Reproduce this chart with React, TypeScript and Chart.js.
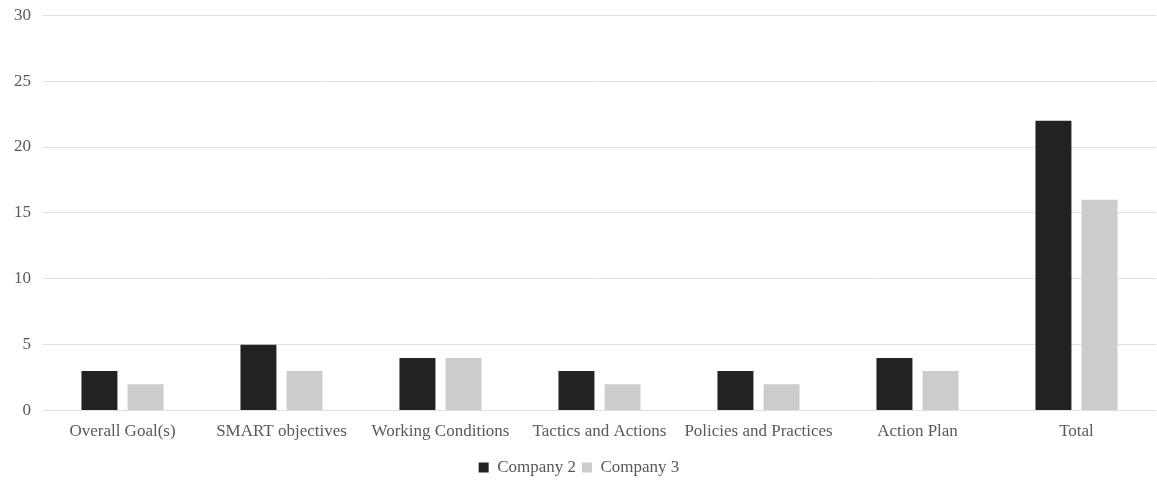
import React, { useEffect, useRef } from "react";
import { Chart, registerables } from "chart.js";

Chart.register(...registerables);

const categories = [
  "Overall Goal(s)",
  "SMART objectives",
  "Working Conditions",
  "Tactics and Actions",
  "Policies and Practices",
  "Action Plan",
  "Total",
];
const company2 = [3, 5, 4, 3, 3, 4, 22];
const company3 = [2, 3, 4, 2, 2, 3, 16];

export default function App() {
  const ref = useRef<HTMLCanvasElement | null>(null);
  useEffect(() => {
    document.body.style.margin = "0";
    const font = { family: "'Liberation Serif', 'Times New Roman', serif", size: 17 };
    const chart = new Chart(ref.current!, {
      type: "bar",
      data: {
        labels: categories,
        datasets: [
          { label: "Company 2", data: company2, backgroundColor: "#222222", borderWidth: 0 },
          { label: "Company 3", data: company3, backgroundColor: "#cccccc", borderWidth: 0 },
        ],
      },
      options: {
        animation: false,
        responsive: false,
        maintainAspectRatio: false,
        layout: { padding: { left: 2, right: 1, top: 2, bottom: 0 } },
        datasets: { bar: { categoryPercentage: 0.58, barPercentage: 0.78 } },
        plugins: {
          legend: {
            position: "bottom",
            labels: { font, color: "#595959", boxWidth: 10, boxHeight: 10, padding: 6 },
          },
          tooltip: { enabled: false },
        },
        scales: {
          x: {
            grid: { display: false },
            border: { display: false },
            ticks: { font, color: "#595959", padding: 3, maxRotation: 0, autoSkip: false },
            afterFit: (scale: any) => {
              scale.height += 8;
            },
          },
          y: {
            min: 0,
            max: 30,
            ticks: { stepSize: 5, font, color: "#595959", padding: 12 },
            grid: { color: "#e0e0e0", drawTicks: false, lineWidth: 1 },
            border: { display: false },
          },
        },
      },
    });
    return () => chart.destroy();
  }, []);
  return (
    <div style={{ width: 1157, height: 483, overflow: "hidden" }}>
      <canvas ref={ref} width={1157} height={493} style={{ display: "block", marginTop: -7 }} />
    </div>
  );
}
